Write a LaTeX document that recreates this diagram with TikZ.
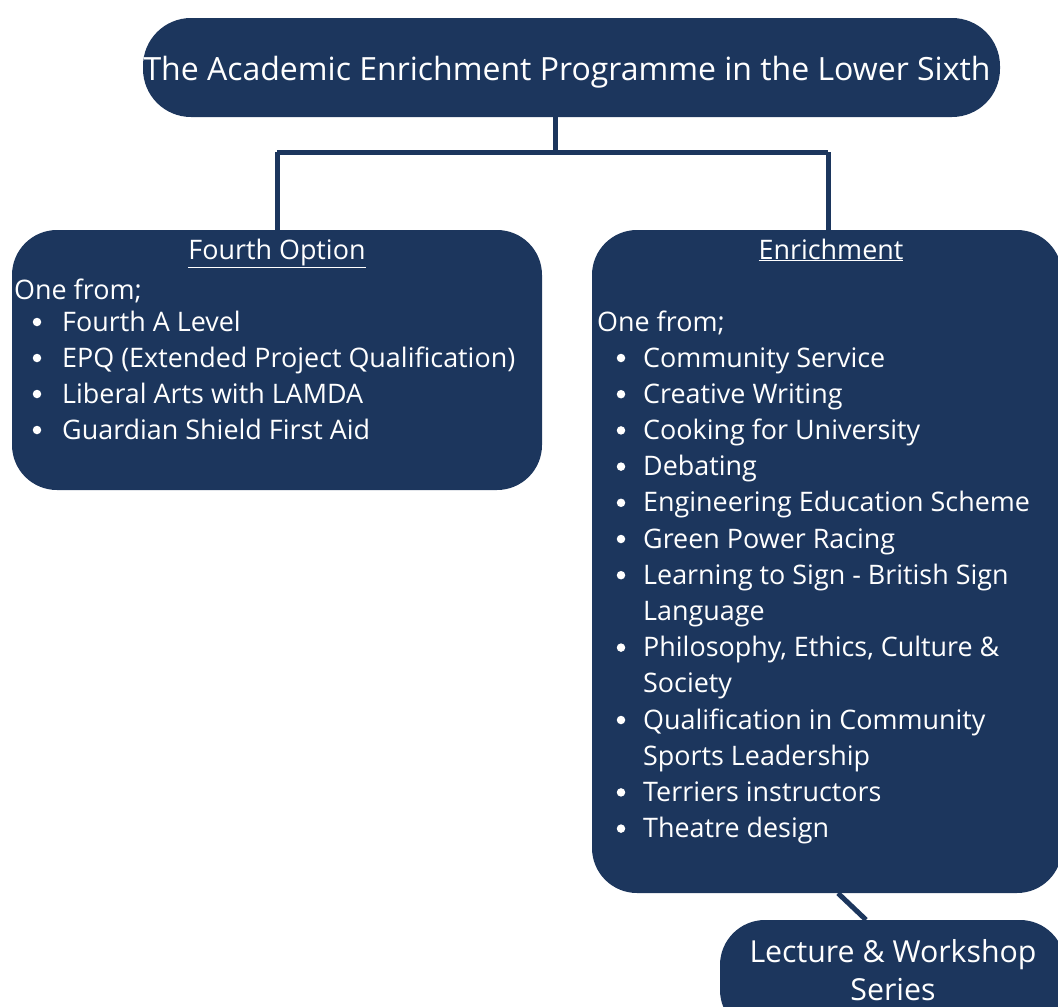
\documentclass[tikz,border=0pt]{standalone}
\usepackage{fontspec}
\setmainfont{Open Sans}
\definecolor{navy}{RGB}{28,54,93}
\begin{document}
\begin{tikzpicture}[x=1pt,y=-1pt,
  box/.style={fill=navy, inner sep=0pt},
  conn/.style={draw=navy, line width=5pt},
  txt/.style={text=white, font=\fontsize{26.9}{32}\selectfont, inner sep=0pt, anchor=base west},
  head/.style={txt, anchor=base},
  dot/.style={circle, fill=white, inner sep=0pt, minimum size=8.5pt}]
\useasboundingbox (0,0) rectangle (1058,1007);
% boxes
\node[box, rounded corners=48pt, minimum width=857pt, minimum height=99pt] (top) at (571.5,67.5) {};
\node[box, rounded corners=45pt, minimum width=530pt, minimum height=260pt] (fourth) at (277,360) {};
\node[box, rounded corners=45pt, minimum width=470pt, minimum height=663pt] (enrich) at (827,561.5) {};
\node[box, rounded corners=45pt, minimum width=345pt, minimum height=115pt] (lecture) at (892.5,977.5) {};
% connectors
\coordinate (j) at (555,152);
\coordinate (jl) at (277,152);
\coordinate (jr) at (828,152);
\draw[conn] (top.south -| j) -- (j);
\draw[conn] (jl) -- (jr);
\draw[conn] (jl) -- (fourth.north -| jl);
\draw[conn] (jr) -- (enrich.north -| jr);
\draw[conn] (enrich.south -| 838,0) -- (lecture.north -| 866,0);
% title
\node[txt, anchor=base, font=\fontsize{32}{36}\selectfont] (title) at (567,80) {The Academic Enrichment Programme in the Lower Sixth};
% fourth option
\node[head] (fh) at (277,259) {\underline{Fourth Option}};
\node[txt] (fo) at (14,299) {One from;};
\foreach \t [count=\i] in {Fourth A Level, EPQ (Extended Project Qualification), Liberal Arts with LAMDA, Guardian Shield First Aid}{
  \node[dot] (fb\i) at (37,{322+36*(\i-1)}) {};
  \node[txt] (fi\i) at (62,{331+36*(\i-1)}) {\t};
}
% enrichment
\node[head] (eh) at (831,259) {\underline{Enrichment}};
\node[txt] (eo) at (597,331) {One from;};
\foreach \t/\b [count=\i] in {{Community Service}/1, {Creative Writing}/1, {Cooking for University}/1, {Debating}/1, {Engineering Education Scheme}/1, {Green Power Racing}/1, {Learning to Sign - British Sign}/1, {Language}/0, {Philosophy, Ethics, Culture \&}/1, {Society}/0, {Qualification in Community}/1, {Sports Leadership}/0, {Terriers instructors}/1, {Theatre design}/1}{
  \node[txt] (ei\i) at (643,{367+36.2*(\i-1)}) {\t};
  \ifnum\b=1 \node[dot] (eb\i) at (621,{358+36.2*(\i-1)}) {};\fi
}
% lecture
\node[head, font=\fontsize{30.3}{34}\selectfont] (lc1) at (893,962) {Lecture \& Workshop};
\node[head, font=\fontsize{30.3}{34}\selectfont] (lc2) at (893,1000) {Series};
\end{tikzpicture}
\end{document}
